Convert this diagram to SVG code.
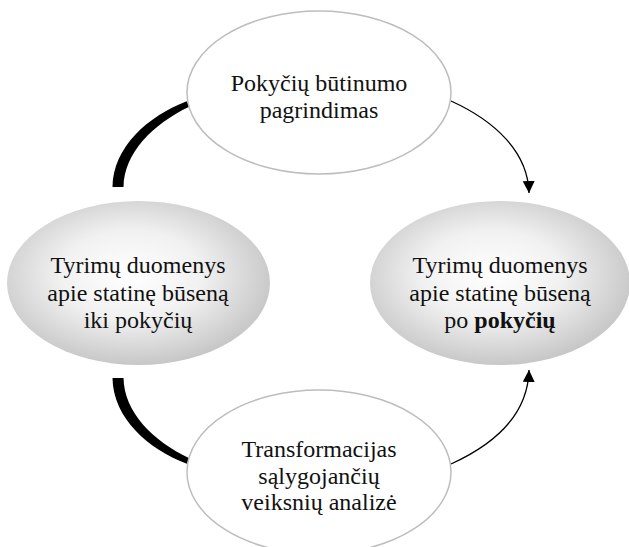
<svg xmlns="http://www.w3.org/2000/svg" width="629" height="547" viewBox="0 0 629 547">
<style>
.lbl{font-family:"Liberation Serif","Times New Roman",serif;font-size:24px;fill:#111;text-anchor:middle}
.b{font-weight:bold}
.plain{fill:#fff;stroke:#bdbdbd;stroke-width:1.5}
.shade{fill:url(#g)}
.thin{fill:none;stroke:#000;stroke-width:1.3}
.thick{fill:#000;stroke:none}
</style>
<defs>
<radialGradient id="g" cx="0.47" cy="0.45" r="0.6">
<stop offset="0" stop-color="#ffffff"/>
<stop offset="0.45" stop-color="#f1f1f1"/>
<stop offset="1" stop-color="#c0c0c0"/>
</radialGradient>
<marker id="ah" markerUnits="userSpaceOnUse" markerWidth="12" markerHeight="14" viewBox="0 0 12 14" refX="12" refY="6" orient="auto">
<path d="M0,0 L12,6 L0,12 Z" fill="#000"/>
</marker>
</defs>
<g id="connectors">
<path class="thick" d="M186.8 101.2 C148 116 113 147 112.5 187 L123.5 187 C124 153 153 124 189.2 106.8 Z"/>
<path class="thick" d="M186.8 463.8 C148 449 113 418 112.5 378 L123.5 378 C124 412 153 441 189.2 458.2 Z"/>
<path class="thin" d="M451 101 C495 121 528 152 529 193" marker-end="url(#ah)"/>
<path class="thin" d="M451 464 C495 444 528 414 529 370" marker-end="url(#ah)"/>
</g>
<g id="node-top">
<ellipse class="plain" cx="319" cy="92.5" rx="132" ry="81.5"/>
<text class="lbl" x="319" y="91">Pokyčių būtinumo</text>
<text class="lbl" x="319" y="118">pagrindimas</text>
</g>
<g id="node-left">
<ellipse class="shade" cx="138.5" cy="283" rx="131.5" ry="82"/>
<text class="lbl" x="138" y="273">Tyrimų duomenys</text>
<text class="lbl" x="138" y="301">apie statinę būseną</text>
<text class="lbl" x="138" y="328">iki pokyčių</text>
</g>
<g id="node-right">
<ellipse class="shade" cx="500" cy="283" rx="130" ry="82"/>
<text class="lbl" x="500" y="273">Tyrimų duomenys</text>
<text class="lbl" x="500" y="301">apie statinę būseną</text>
<text class="lbl" x="500" y="328">po <tspan class="b">pokyčių</tspan></text>
</g>
<g id="node-bottom">
<ellipse class="plain" cx="319" cy="472" rx="132" ry="82"/>
<text class="lbl" x="319" y="457">Transformacijas</text>
<text class="lbl" x="319" y="484">sąlygojančių</text>
<text class="lbl" x="319" y="510">veiksnių analizė</text>
</g>
</svg>
